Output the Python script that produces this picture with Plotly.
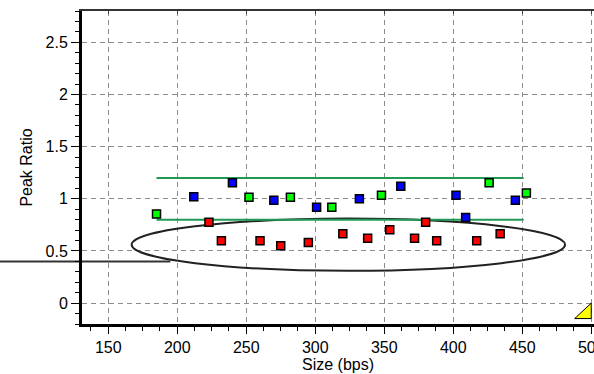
import plotly.graph_objects as go

# ---- data ----
blue_x = [212, 240, 270, 301, 332, 362, 402, 409, 445]
blue_y = [1.02, 1.155, 0.985, 0.92, 1.00, 1.12, 1.035, 0.82, 0.985]

green_x = [185, 252, 282, 312, 348, 426, 453]
green_y = [0.855, 1.015, 1.015, 0.92, 1.035, 1.155, 1.055]

red_x = [223, 232, 260, 275, 295, 320, 338, 354, 372, 380, 388, 417, 434]
red_y = [0.775, 0.597, 0.597, 0.55, 0.58, 0.665, 0.623, 0.703, 0.623, 0.776, 0.597, 0.597, 0.664]

limit_x = [185, 451]
upper_limit = [1.2, 1.2]
lower_limit = [0.8, 0.8]

ellipse_x = [167, 481]
ellipse_y = [0.31, 0.81]

ref_line_y = 0.4
ref_line_x_end = 195

flag_x = [488, 500, 500, 488]
flag_y = [-0.148, -0.148, 0.0, -0.148]

x_range = [131, 502]
y_range = [-0.2, 2.8]

FONT = "Liberation Sans, Arial, sans-serif"

fig = go.Figure()

# limit lines
fig.add_trace(go.Scatter(x=limit_x, y=upper_limit, mode="lines",
                         line=dict(color="#1f9a55", width=2), hoverinfo="skip", showlegend=False))
fig.add_trace(go.Scatter(x=limit_x, y=lower_limit, mode="lines",
                         line=dict(color="#1f9a55", width=2), hoverinfo="skip", showlegend=False))

def sq(x, y, color):
    return go.Scatter(x=x, y=y, mode="markers",
                      marker=dict(symbol="square", size=8, color=color,
                                  line=dict(color="black", width=1.5)),
                      showlegend=False, cliponaxis=False)

fig.add_trace(sq(blue_x, blue_y, "#0000ff"))
fig.add_trace(sq(green_x, green_y, "#00ff00"))
fig.add_trace(sq(red_x, red_y, "#ff0000"))

# yellow flag in the corner
fig.add_trace(go.Scatter(x=flag_x, y=flag_y, mode="lines", fill="toself",
                         fillcolor="#ffff00", line=dict(color="black", width=1),
                         hoverinfo="skip", showlegend=False))

# dummy trace for the top axis
fig.add_trace(go.Scatter(x=[None], y=[None], xaxis="x2", showlegend=False, hoverinfo="skip"))

def to_px(v):
    return (v - x_range[0]) / (x_range[1] - x_range[0])

def to_py(v):
    return (v - y_range[0]) / (y_range[1] - y_range[0])

L = 82
W = 594
plot_w = W - L

fig.add_shape(type="circle", xref="x", yref="y",
              x0=ellipse_x[0], x1=ellipse_x[1], y0=ellipse_y[0], y1=ellipse_y[1],
              line=dict(color="#222222", width=2), layer="between")
fig.add_shape(type="line", xref="paper", yref="paper",
              x0=-L / plot_w, x1=to_px(ref_line_x_end),
              y0=to_py(ref_line_y), y1=to_py(ref_line_y),
              line=dict(color="#333333", width=2), layer="between")

grid = dict(showgrid=True, gridcolor="#8c8c8c", gridwidth=1, griddash="5px,4px")

fig.update_layout(
    width=594, height=374,
    margin=dict(l=L, r=0, t=11, b=50),
    paper_bgcolor="white", plot_bgcolor="white",
    font=dict(family=FONT, size=16, color="black"),
    xaxis=dict(range=x_range, tick0=0, dtick=50, ticks="outside", ticklen=7,
               tickwidth=1, tickcolor="black", showline=True, linecolor="black",
               linewidth=3, zeroline=False, automargin=False, ticklabeloverflow="allow",
               minor=dict(dtick=12.5, ticks="outside", ticklen=4, tickcolor="black", showgrid=False),
               title=dict(text="Size (bps)", font=dict(size=16), standoff=2),
               tickfont=dict(size=16), **grid),
    xaxis2=dict(matches="x", overlaying="x", side="top", range=x_range, dtick=50, tick0=0,
                ticks="inside", ticklen=3, tickcolor="#444", showticklabels=False,
                showline=True, linecolor="#333333", linewidth=2, showgrid=False,
                zeroline=False, automargin=False),
    yaxis=dict(range=y_range, tick0=0, dtick=0.5, ticks="outside", ticklen=8,
               tickwidth=1, tickcolor="black", showline=True, linecolor="black",
               linewidth=3, zeroline=False, automargin=False,
               minor=dict(dtick=0.1, ticks="outside", ticklen=4, tickcolor="black", showgrid=False),
               title=dict(text="Peak Ratio", font=dict(size=16), standoff=9),
               tickfont=dict(size=16), **grid),
)

fig.write_html("out.html", config={"displayModeBar": False},
               post_script="document.body.style.margin='0px';document.body.style.overflow='hidden';")
